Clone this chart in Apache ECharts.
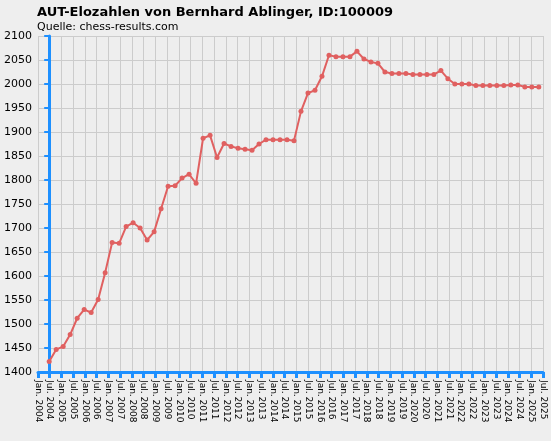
<!DOCTYPE html>
<html><head><meta charset="utf-8">
<script src="https://cdn.jsdelivr.net/npm/echarts@6/dist/echarts.min.js"></script>
<style>html,body{margin:0;background:#eeeeee}#c{width:551px;height:441px}</style>
</head><body><div id="c"></div>
<script>
var ratings = [1422, 1447, 1453, 1478, 1512, 1530, 1524, 1551, 1607, 1670, 1668, 1703, 1711, 1700, 1675, 1692,
  1740, 1787, 1788, 1804, 1812, 1793, 1887, 1893, 1847, 1876, 1870, 1866, 1864, 1862, 1875, 1884, 1884, 1884,
  1884, 1882, 1943, 1981, 1987, 2016, 2060, 2057, 2057, 2057, 2068, 2052, 2046, 2043, 2025, 2022, 2022, 2022,
  2020, 2020, 2020, 2020, 2028, 2011, 2000, 2000, 2000, 1997, 1997, 1997, 1997, 1997, 1998, 1998, 1994, 1994, 1994];
var tickLabels = [];
for (var y = 2004; y <= 2025; y++) {
  tickLabels.push('Jan. ' + y);
  tickLabels.push('Jul. ' + y);
}

var chart = echarts.init(document.getElementById('c'));
chart.setOption({
  backgroundColor: '#eeeeee',
  animation: false,
  title: {
    text: 'AUT-Elozahlen von Bernhard Ablinger, ID:100009',
    subtext: 'Quelle: chess-results.com',
    left: 32, top: 1, itemGap: 3,
    textStyle: { fontFamily: 'DejaVu Sans', fontSize: 13, fontWeight: 'bold', color: '#000' },
    subtextStyle: { fontFamily: 'DejaVu Sans', fontSize: 11, color: '#000' }
  },
  grid: { left: 38, right: 8, top: 36, bottom: 69 },
  xAxis: [{
    type: 'value', min: -1.6, max: 70.6, show: false
  }, {
    type: 'category', data: tickLabels, boundaryGap: false, position: 'bottom',
    axisLine: { lineStyle: { color: '#1e90ff', width: 3 } },
    axisTick: { show: true, length: 6, interval: 0, lineStyle: { color: '#1e90ff', width: 3 } },
    axisLabel: { interval: 0, rotate: -90, fontSize: 9, color: '#000', fontFamily: 'DejaVu Sans', margin: 8 },
    splitLine: { show: true, interval: 0, lineStyle: { color: '#cccccc' } }
  }],
  yAxis: {
    type: 'value', min: 1400, max: 2100, interval: 50,
    axisLine: { show: true, lineStyle: { color: '#1e90ff', width: 3 } },
    axisTick: { show: true, length: 5, lineStyle: { color: '#1e90ff', width: 2 } },
    axisLabel: { fontSize: 11, color: '#000', fontFamily: 'DejaVu Sans', margin: 6, formatter: function (v) { return String(v); } },
    splitLine: { lineStyle: { color: '#cccccc' } }
  },
  series: [{
    type: 'line', xAxisIndex: 0,
    data: ratings.map(function (v, i) { return [i, v]; }),
    symbol: 'circle', symbolSize: 5, showAllSymbol: true,
    lineStyle: { color: '#e06060', width: 2 },
    itemStyle: { color: '#e06060' }
  }]
});
</script></body></html>
